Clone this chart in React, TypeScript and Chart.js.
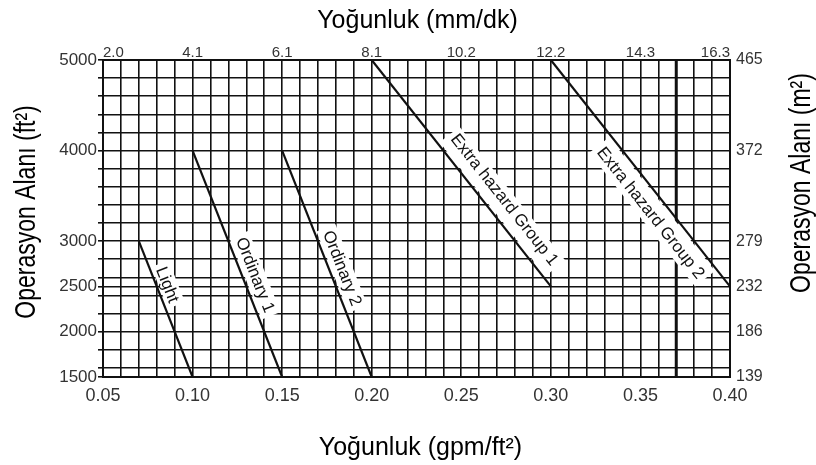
import React, { useEffect, useRef } from 'react';
import { Chart, registerables } from 'chart.js';

Chart.register(...registerables);

// ---------- data ----------
const seriesNames = ['Light', 'Ordinary 1', 'Ordinary 2', 'Extra hazard Group 1', 'Extra hazard Group 2'];
const startDensity = [0.07, 0.10, 0.15, 0.20, 0.30]; // gpm/ft²
const startArea = [3000, 4000, 4000, 5000, 5000]; // ft²
const endDensity = [0.10, 0.15, 0.20, 0.30, 0.40];
const endArea = [1500, 1500, 1500, 2500, 2500];

const markerDensity = 0.37; // thick vertical line

const xTickValues = [0.05, 0.10, 0.15, 0.20, 0.25, 0.30, 0.35, 0.40];
const xTickLabels = ['0.05', '0.10', '0.15', '0.20', '0.25', '0.30', '0.35', '0.40'];
const topTickLabels = ['2.0', '4.1', '6.1', '8.1', '10.2', '12.2', '14.3', '16.3'];
const yTickValues = [1500, 2000, 2500, 3000, 4000, 5000];
const yTickLabels = ['1500', '2000', '2500', '3000', '4000', '5000'];
const rightTickLabels = ['139', '186', '232', '279', '372', '465'];

const topTitle = 'Yoğunluk (mm/dk)';
const bottomTitle = 'Yoğunluk (gpm/ft²)';
const leftTitle = 'Operasyon Alanı (ft²)';
const rightTitle = 'Operasyon Alanı (m²)';

// ---------- style / layout ----------
const FONT = "'Liberation Sans', Arial, Helvetica, sans-serif";
const INK = '#111';
const TICK_COLOR = '#333';
const LABEL_SIZE = 17;
// position of each curve label along its line (fraction) and perpendicular offset (px, + = upper-right side)
const labelLayout = [
  { t: 0.35, offset: 10 },
  { t: 0.57, offset: 12 },
  { t: 0.54, offset: 12 },
  { t: 0.665, offset: 17 },
  { t: 0.63, offset: -17 },
];

const X_MIN = xTickValues[0];
const X_MAX = xTickValues[xTickValues.length - 1];
const Y_MIN = yTickValues[0];
const Y_MAX = yTickValues[yTickValues.length - 1];

// grid: every 0.01 on x; every 200 (even hundreds) plus the labelled 1500 and 2500 on y
const xGrid: number[] = [];
for (let k = Math.round(X_MIN * 100); k <= Math.round(X_MAX * 100); k++) xGrid.push(k / 100);
const yGridSet = new Set<number>(yTickValues);
for (let v = 1600; v <= Y_MAX; v += 200) yGridSet.add(v);
const yGrid = Array.from(yGridSet).sort((a, b) => a - b);

const findIndex = (arr: number[], v: number) => arr.findIndex((a) => Math.abs(a - v) < 1e-6);

const overlayPlugin = {
  id: 'overlay',
  afterDatasetsDraw(chart: any) {
    const ctx = chart.ctx as CanvasRenderingContext2D;
    const xs = chart.scales.x;
    const ys = chart.scales.y;
    ctx.save();
    ctx.font = `${LABEL_SIZE}px ${FONT}`;
    seriesNames.forEach((name, i) => {
      const x1 = xs.getPixelForValue(startDensity[i]);
      const y1 = ys.getPixelForValue(startArea[i]);
      const x2 = xs.getPixelForValue(endDensity[i]);
      const y2 = ys.getPixelForValue(endArea[i]);
      const ang = Math.atan2(y2 - y1, x2 - x1);
      const L = labelLayout[i];
      const px = x1 + (x2 - x1) * L.t;
      const py = y1 + (y2 - y1) * L.t;
      ctx.save();
      ctx.translate(px, py);
      ctx.rotate(ang);
      const w = ctx.measureText(name).width;
      const side = Math.sign(L.offset);
      const off = Math.abs(L.offset);
      const near = 2.2;
      const far = off + LABEL_SIZE / 2 + 2;
      const yA = -side * near;
      const yB = -side * far;
      ctx.fillStyle = '#fff';
      ctx.fillRect(-w / 2 - 4, Math.min(yA, yB), w + 8, Math.abs(yB - yA));
      ctx.fillStyle = INK;
      ctx.textAlign = 'center';
      ctx.textBaseline = 'middle';
      ctx.fillText(name, 0, -L.offset);
      ctx.restore();
    });
    ctx.restore();
  },
  afterDraw(chart: any) {
    const ctx = chart.ctx as CanvasRenderingContext2D;
    const a = chart.chartArea;
    ctx.save();
    ctx.fillStyle = '#000';
    ctx.textAlign = 'center';
    ctx.textBaseline = 'alphabetic';
    ctx.font = `25px ${FONT}`;
    const cx = (a.left + a.right) / 2;
    ctx.fillText(topTitle, cx + 1, a.top - 32);
    ctx.fillText(bottomTitle, cx + 4, a.bottom + 78);
    ctx.font = `23px ${FONT}`;
    const vertical = (text: string, bx: number, cy: number) => {
      ctx.save();
      ctx.translate(bx, cy);
      ctx.rotate(-Math.PI / 2);
      ctx.scale(1, 1.25);
      ctx.fillText(text, 0, 0);
      ctx.restore();
    };
    vertical(leftTitle, a.left - 68, a.top + 152);
    vertical(rightTitle, a.right + 80, a.top + 123);
    ctx.restore();
  },
};

export default function App() {
  const ref = useRef<HTMLCanvasElement>(null);
  useEffect(() => {
    if (!ref.current) return;
    const lineDatasets: any[] = seriesNames.map((name, i) => ({
      label: name,
      data: [
        { x: startDensity[i], y: startArea[i] },
        { x: endDensity[i], y: endArea[i] },
      ],
      showLine: true,
      borderColor: INK,
      backgroundColor: INK,
      borderWidth: 2.2,
      pointRadius: 0,
      fill: false,
      xAxisID: 'x',
      yAxisID: 'y',
    }));
    lineDatasets.push({
      label: 'marker',
      data: [
        { x: markerDensity, y: Y_MIN },
        { x: markerDensity, y: Y_MAX },
      ],
      showLine: true,
      borderColor: INK,
      backgroundColor: INK,
      borderWidth: 3,
      pointRadius: 0,
      fill: false,
      xAxisID: 'x',
      yAxisID: 'y',
    });

    const chart = new Chart(ref.current, {
      type: 'scatter',
      data: { datasets: lineDatasets },
      plugins: [overlayPlugin],
      options: {
        animation: false,
        responsive: true,
        maintainAspectRatio: false,
        layout: { padding: 0 },
        plugins: { legend: { display: false }, tooltip: { enabled: false }, title: { display: false } },
        font: { family: FONT } as any,
        scales: {
          x: {
            type: 'linear',
            position: 'bottom',
            min: X_MIN,
            max: X_MAX,
            afterBuildTicks: (s: any) => {
              s.ticks = xGrid.map((v) => ({ value: v }));
            },
            afterFit: (s: any) => {
              s.height = 88;
            },
            ticks: {
              autoSkip: false,
              maxRotation: 0,
              minRotation: 0,
              padding: 8,
              color: TICK_COLOR,
              font: { family: FONT, size: 18 },
              callback: (v: any) => {
                const idx = findIndex(xTickValues, Number(v));
                return idx >= 0 ? xTickLabels[idx] : '';
              },
            },
            grid: { color: INK, lineWidth: 1.6, drawTicks: false },
            border: { display: true, color: INK, width: 2 },
          },
          xTop: {
            type: 'linear',
            position: 'top',
            min: X_MIN,
            max: X_MAX,
            afterBuildTicks: (s: any) => {
              s.ticks = xTickValues.map((v) => ({ value: v }));
            },
            afterFit: (s: any) => {
              s.height = 60;
            },
            ticks: {
              autoSkip: false,
              maxRotation: 0,
              minRotation: 0,
              align: 'inner',
              padding: -2,
              color: TICK_COLOR,
              font: { family: FONT, size: 15 },
              callback: (v: any) => {
                const idx = findIndex(xTickValues, Number(v));
                return idx >= 0 ? topTickLabels[idx] : '';
              },
            },
            grid: { display: false, drawTicks: false },
            border: { display: true, color: INK, width: 2 },
          },
          y: {
            type: 'linear',
            position: 'left',
            min: Y_MIN,
            max: Y_MAX,
            afterBuildTicks: (s: any) => {
              s.ticks = yGrid.map((v) => ({ value: v }));
            },
            afterFit: (s: any) => {
              s.width = 103;
            },
            ticks: {
              autoSkip: false,
              padding: 1,
              color: TICK_COLOR,
              font: { family: FONT, size: 17 },
              callback: (v: any) => {
                const idx = findIndex(yTickValues, Number(v));
                return idx >= 0 ? yTickLabels[idx] : '';
              },
            },
            grid: { color: INK, lineWidth: 1.6, drawTicks: true, tickLength: 5 },
            border: { display: true, color: INK, width: 2 },
          },
          yRight: {
            type: 'linear',
            position: 'right',
            min: Y_MIN,
            max: Y_MAX,
            afterBuildTicks: (s: any) => {
              s.ticks = yGrid.map((v) => ({ value: v }));
            },
            afterFit: (s: any) => {
              s.width = 86;
            },
            ticks: {
              autoSkip: false,
              padding: 6,
              color: TICK_COLOR,
              font: { family: FONT, size: 16 },
              callback: (v: any) => {
                const idx = findIndex(yTickValues, Number(v));
                return idx >= 0 ? rightTickLabels[idx] : '';
              },
            },
            grid: { display: false, drawTicks: false },
            border: { display: true, color: INK, width: 2 },
          },
        },
      } as any,
    });
    return () => chart.destroy();
  }, []);

  return (
    <div style={{ position: 'fixed', left: 0, top: 0, width: 816, height: 465, background: '#fff' }}>
      <canvas ref={ref} />
    </div>
  );
}
